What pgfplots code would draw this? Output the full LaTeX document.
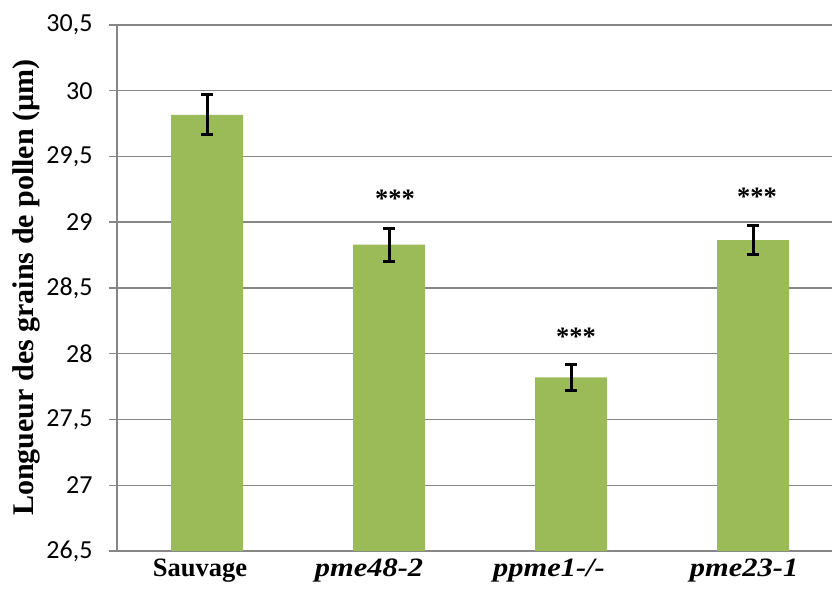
\documentclass[border=0pt]{standalone}
\usepackage{pgfplots}
\pgfplotsset{compat=1.18}
\usepackage{fontspec}
\setmainfont{Liberation Serif}
\newfontfamily\tickfont{Carlito}
\newfontfamily\itwide[FakeStretch=1.15]{Liberation Serif}
\definecolor{barg}{HTML}{9BBB59}
\definecolor{gridg}{HTML}{868686}
\begin{document}
\begin{tikzpicture}
\useasboundingbox (0,0) rectangle (832pt,589pt);
\begin{axis}[
  at={(117pt,38pt)}, anchor=south west,
  scale only axis, width=715pt, height=526pt,
  xmin=-0.4945, xmax=3.434, ymin=26.5, ymax=30.5,
  ytick={26.5,27,27.5,28,28.5,29,29.5,30,30.5},
  axis x line=none,
  axis y line=left,
  y axis line style={gridg, line width=1.5pt, -},
  ymajorgrids,
  grid style={gridg, line width=1.5pt},
  tick style={gridg, line width=1.5pt},
  major tick length=8pt,
  tick align=outside,
  /pgf/number format/.cd, use comma, assume math mode=true,
  /pgfplots/.cd,
  yticklabel style={font=\tickfont\fontsize{26}{26}\selectfont, black, xshift=-13pt},
  clip mode=individual,
]
\addplot[ybar, bar width=72pt, fill=barg, draw=none,
  error bars/.cd, y dir=both, y explicit,
  error bar style={line width=3pt, black},
  error mark options={rotate=90, mark size=6pt, line width=3pt, black}]
  coordinates {
    (0,29.816) +- (0,0.152)
    (1,28.830) +- (0,0.125)
    (2,27.820) +- (0,0.100)
    (3,28.865) +- (0,0.112)
  };
\node[anchor=base, font=\bfseries\fontsize{26.5}{26.5}\selectfont] at (axis cs:1.033,29.112) {***};
\node[anchor=base, font=\bfseries\fontsize{26.5}{26.5}\selectfont] at (axis cs:2.027,28.063) {***};
\node[anchor=base, font=\bfseries\fontsize{26.5}{26.5}\selectfont] at (axis cs:3.022,29.130) {***};
\node[anchor=base, yshift=-25.7pt, font=\bfseries\fontsize{26.5}{26.5}\selectfont] at (axis cs:-0.038,26.5) {Sauvage};
\node[anchor=base, yshift=-25.7pt, font=\itwide\bfseries\itshape\fontsize{26.5}{26.5}\selectfont] at (axis cs:0.890,26.5) {pme48-2};
\node[anchor=base, yshift=-25.7pt, font=\itwide\bfseries\itshape\fontsize{26.5}{26.5}\selectfont] at (axis cs:1.879,26.5) {ppme1-/-};
\node[anchor=base, yshift=-25.7pt, font=\itwide\bfseries\itshape\fontsize{26.5}{26.5}\selectfont] at (axis cs:2.951,26.5) {pme23-1};
\end{axis}
\node[rotate=90, font=\bfseries\fontsize{30}{30}\selectfont] at (26pt,301.5pt) {Longueur des grains de pollen (µm)};
\end{tikzpicture}
\end{document}
